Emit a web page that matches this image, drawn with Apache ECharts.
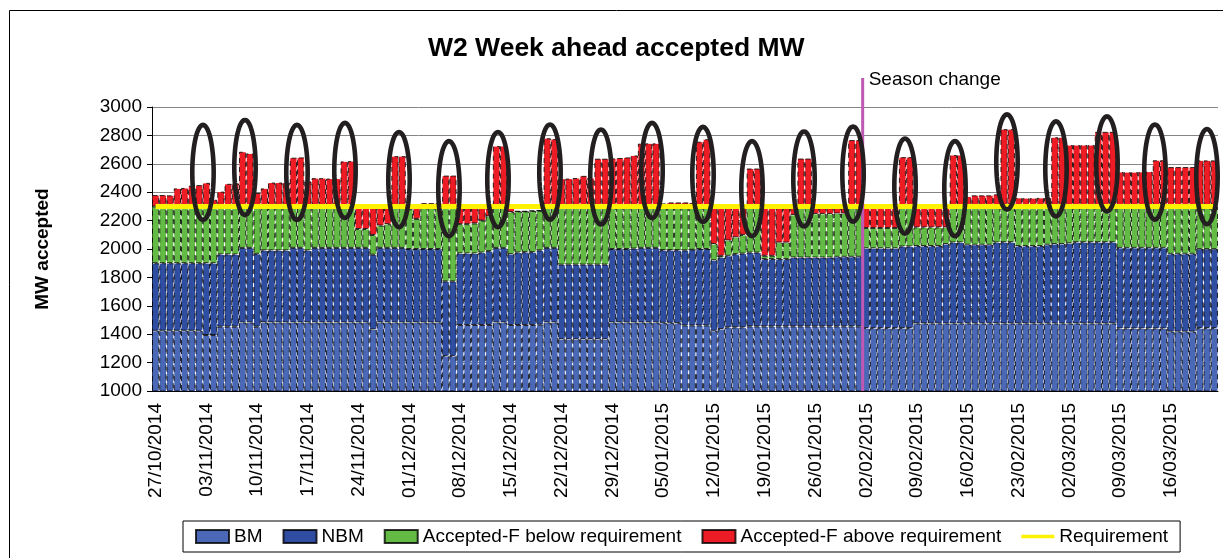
<!DOCTYPE html>
<html>
<head>
<meta charset="utf-8">
<script src="https://cdn.jsdelivr.net/npm/echarts@6/dist/echarts.min.js"></script>
<style>
html, body { margin: 0; padding: 0; background: #fff; }
#chart-container { width: 1223px; height: 558px; }
</style>
</head>
<body>
<div id="chart-container"></div>
<script>
// levels, one value per day (27/10/2014 .. 22/03/2015), one row per week
var bmTop = [
    1424, 1424, 1424, 1424, 1424, 1424, 1424,
    1394, 1394, 1453, 1453, 1453, 1483, 1483,
    1453, 1483, 1483, 1483, 1483, 1483, 1483,
    1483, 1483, 1483, 1483, 1483, 1483, 1483,
    1483, 1483, 1433, 1483, 1483, 1483, 1483,
    1483, 1483, 1483, 1483, 1483, 1247, 1247,
    1465, 1465, 1465, 1465, 1465, 1483, 1483,
    1465, 1465, 1465, 1465, 1467, 1483, 1483,
    1365, 1365, 1365, 1365, 1365, 1365, 1365,
    1483, 1483, 1483, 1483, 1483, 1483, 1483,
    1480, 1480, 1478, 1462, 1462, 1462, 1462,
    1424, 1436, 1448, 1448, 1448, 1455, 1455,
    1455, 1455, 1455, 1455, 1455, 1455, 1455,
    1455, 1455, 1455, 1455, 1455, 1455, 1455,
    1443, 1443, 1443, 1443, 1443, 1443, 1443,
    1476, 1476, 1476, 1476, 1476, 1476, 1476,
    1476, 1476, 1476, 1476, 1476, 1476, 1476,
    1476, 1476, 1476, 1476, 1476, 1476, 1476,
    1476, 1476, 1476, 1476, 1476, 1476, 1476,
    1441, 1441, 1441, 1441, 1441, 1441, 1441,
    1418, 1418, 1418, 1418, 1443, 1443, 1443
];
var nbmTop = [
    1900, 1900, 1900, 1900, 1900, 1900, 1900,
    1900, 1900, 1962, 1962, 1962, 2008, 2008,
    1966, 1990, 1990, 1990, 1990, 2008, 2008,
    1990, 2008, 2008, 2008, 2008, 2008, 2008,
    2008, 2008, 1960, 2008, 2008, 2008, 2008,
    2000, 2000, 2000, 2000, 2000, 1772, 1772,
    1969, 1969, 1969, 1975, 1985, 2008, 2008,
    1964, 1975, 1978, 1978, 1990, 2008, 2008,
    1890, 1890, 1890, 1890, 1890, 1890, 1890,
    2000, 2000, 2000, 2003, 2008, 2008, 2008,
    1992, 1992, 1992, 1990, 1995, 2000, 2000,
    1921, 1940, 1952, 1964, 1968, 1975, 1975,
    1929, 1929, 1929, 1929, 1940, 1940, 1940,
    1940, 1940, 1940, 1945, 1945, 1945, 1945,
    2005, 2005, 2005, 2005, 2005, 2018, 2018,
    2021, 2021, 2021, 2021, 2035, 2046, 2046,
    2030, 2030, 2030, 2030, 2046, 2048, 2048,
    2021, 2021, 2021, 2021, 2030, 2035, 2035,
    2040, 2048, 2048, 2048, 2048, 2048, 2048,
    2008, 2008, 2008, 2008, 2008, 2008, 2008,
    1966, 1966, 1966, 1966, 1999, 1999, 1999
];
var belowReqTop = [
    2300, 2300, 2300, 2300, 2300, 2300, 2300,
    2300, 2300, 2300, 2300, 2300, 2300, 2300,
    2300, 2300, 2300, 2300, 2300, 2300, 2300,
    2300, 2300, 2300, 2300, 2300, 2300, 2300,
    2141, 2141, 2099, 2165, 2175, 2300, 2300,
    2280, 2212, 2300, 2300, 2300, 2300, 2300,
    2175, 2175, 2180, 2200, 2230, 2300, 2300,
    2260, 2265, 2265, 2268, 2270, 2300, 2300,
    2300, 2300, 2300, 2300, 2300, 2300, 2300,
    2300, 2300, 2300, 2300, 2300, 2300, 2300,
    2300, 2300, 2300, 2300, 2300, 2300, 2300,
    2035, 1952, 2060, 2082, 2099, 2300, 2300,
    1952, 1952, 2045, 2045, 2240, 2300, 2300,
    2247, 2247, 2247, 2250, 2250, 2300, 2300,
    2148, 2148, 2148, 2148, 2148, 2300, 2300,
    2152, 2152, 2152, 2152, 2152, 2300, 2300,
    2300, 2300, 2300, 2300, 2300, 2300, 2300,
    2300, 2300, 2300, 2300, 2300, 2300, 2300,
    2300, 2300, 2300, 2300, 2300, 2300, 2300,
    2300, 2300, 2300, 2300, 2300, 2300, 2300,
    2300, 2300, 2300, 2300, 2300, 2300, 2300
];
var totalTop = [
    2380, 2380, 2378, 2427, 2430, 2446, 2450,
    2466, 2347, 2404, 2459, 2462, 2685, 2673,
    2395, 2427, 2468, 2468, 2468, 2643, 2645,
    2476, 2499, 2499, 2496, 2496, 2617, 2619,
    2295, 2295, 2295, 2295, 2295, 2654, 2654,
    2298, 2298, 2323, 2323, 2323, 2517, 2517,
    2295, 2295, 2295, 2295, 2295, 2725, 2726,
    2290, 2265, 2265, 2268, 2270, 2780, 2775,
    2496, 2496, 2500, 2515, 2500, 2636, 2636,
    2638, 2641, 2645, 2659, 2742, 2744, 2744,
    2321, 2328, 2328, 2328, 2325, 2756, 2773,
    2295, 2295, 2295, 2295, 2295, 2567, 2567,
    2295, 2295, 2295, 2295, 2295, 2637, 2637,
    2295, 2295, 2295, 2295, 2295, 2767, 2767,
    2295, 2295, 2295, 2295, 2295, 2647, 2647,
    2295, 2295, 2295, 2295, 2295, 2662, 2662,
    2370, 2378, 2378, 2378, 2385, 2844, 2844,
    2360, 2358, 2358, 2360, 2360, 2787, 2787,
    2732, 2732, 2732, 2732, 2825, 2825, 2825,
    2543, 2541, 2541, 2543, 2545, 2625, 2625,
    2577, 2577, 2577, 2577, 2624, 2624, 2624
];
var requirementMW = 2300;
var seasonChangeDay = '02/02/2015';
// hand drawn rings: day position (fractional) and centre in MW
var ringDay = [6.53, 12.32, 19.49, 26.11, 33.56, 40.45, 47.21, 54.38, 61.41, 68.45, 75.48,
    82.24, 89.41, 96.17, 103.34, 110.23, 117.4, 124.16, 131.19, 137.8, 144.98];
var ringMW = [2539, 2574, 2539, 2553, 2489, 2425, 2489, 2542, 2507, 2553, 2525,
    2425, 2493, 2528, 2443, 2425, 2613, 2564, 2599, 2542, 2510];

function pad(n) { return n < 10 ? '0' + n : '' + n; }
var days = [];
for (var i = 0; i < bmTop.length; i++) {
    var d = new Date(Date.UTC(2014, 9, 27 + i));
    days.push(pad(d.getUTCDate()) + '/' + pad(d.getUTCMonth() + 1) + '/' + d.getUTCFullYear());
}

// stacked pieces from the levels
function piece(top, under) {
    return top.map(function (v, i) { return under ? v - under[i] : v; });
}

var font = '"Liberation Sans", Arial, sans-serif';
var dashed = { borderColor: 'rgba(0,0,0,0.8)', borderWidth: 1, borderType: [5, 4] };

function barSeries(name, data, color) {
    return {
        name: name,
        type: 'bar',
        stack: 'mw',
        barCategoryGap: 0,
        clip: true,
        itemStyle: Object.assign({ color: color }, dashed),
        data: data
    };
}

var dom = document.getElementById('chart-container');
var myChart = echarts.init(dom, null, { renderer: 'canvas', devicePixelRatio: 1 });

var option = {
    animation: false,
    backgroundColor: '#fff',
    textStyle: { fontFamily: font },
    title: {
        text: 'W2 Week ahead accepted MW',
        left: 423,
        top: 30,
        textStyle: { fontFamily: font, fontSize: 26.5, fontWeight: 'bold', color: '#000' }
    },
    graphic: [{
        type: 'rect',
        left: 7,
        top: 8,
        silent: true,
        shape: { width: 1214, height: 600 },
        style: { fill: 'none', stroke: '#000', lineWidth: 1 }
    }],
    legend: {
        data: [
            { name: 'BM', icon: 'rect' },
            { name: 'NBM', icon: 'rect' },
            { name: 'Accepted-F below requirement', icon: 'rect' },
            { name: 'Accepted-F above requirement', icon: 'rect' },
            { name: 'Requirement', icon: 'path://M0,0 L100,0 L100,11 L0,11 Z' }
        ],
        left: 183,
        top: 521,
        itemWidth: 33,
        itemHeight: 13,
        itemGap: 20,
        padding: [6, 12],
        borderColor: '#000',
        borderWidth: 1,
        borderRadius: 0,
        textStyle: { fontFamily: font, fontSize: 19, color: '#000' }
    },
    grid: { left: 152, right: 5, top: 107, bottom: 167 },
    xAxis: {
        type: 'category',
        data: days,
        boundaryGap: true,
        axisLine: { lineStyle: { color: '#000' } },
        axisTick: { interval: 6, length: 6, lineStyle: { color: '#000' } },
        axisLabel: { interval: 6, rotate: 90, fontSize: 19, color: '#000', margin: 12, fontFamily: font }
    },
    yAxis: {
        type: 'value',
        min: 1000,
        max: 3000,
        interval: 200,
        name: 'MW accepted',
        nameLocation: 'middle',
        nameGap: 100,
        nameTextStyle: { fontFamily: font, fontSize: 19, fontWeight: 'bold', color: '#000' },
        axisLine: { show: true, lineStyle: { color: '#000' } },
        axisTick: { show: true, length: 5, lineStyle: { color: '#000' } },
        axisLabel: {
            fontSize: 19, color: '#000', margin: 10, fontFamily: font,
            formatter: function (v) { return String(v); }
        },
        splitLine: { lineStyle: { color: '#858585' } }
    },
    series: [
        barSeries('BM', piece(bmTop), '#4a68b6'),
        barSeries('NBM', piece(nbmTop, bmTop), '#2f4ea2'),
        barSeries('Accepted-F below requirement', piece(belowReqTop, nbmTop), '#63ba45'),
        barSeries('Accepted-F above requirement', piece(totalTop, belowReqTop), '#ed1c24'),
        {
            name: 'Requirement',
            type: 'line',
            symbol: 'none',
            z: 3,
            lineStyle: { color: '#fff200', width: 5 },
            itemStyle: { color: '#fff200' },
            data: [[days[0], requirementMW], [days[days.length - 1], requirementMW]]
        },
        {
            type: 'custom',
            z: 5,
            clip: false,
            silent: true,
            encode: { x: 0, y: [1, 2] },
            data: [[days.indexOf(seasonChangeDay), 1000, 3205]],
            renderItem: function (params, api) {
                var lo = api.coord([api.value(0), api.value(1)]);
                var hi = api.coord([api.value(0), api.value(2)]);
                var x = lo[0] - api.size([1, 0])[0] / 2;
                return {
                    type: 'group',
                    children: [{
                        type: 'line',
                        shape: { x1: x, y1: lo[1], x2: x, y2: hi[1] },
                        style: { stroke: '#bf59b3', lineWidth: 3 }
                    }, {
                        type: 'text',
                        x: x + 6,
                        y: hi[1] + 2,
                        style: { text: 'Season change', fill: '#000', font: '19px ' + font, verticalAlign: 'middle', align: 'left' }
                    }]
                };
            }
        },
        {
            type: 'custom',
            z: 6,
            clip: false,
            silent: true,
            encode: { x: 0, y: 1 },
            data: ringDay.map(function (dd, k) {
                return [Math.floor(dd), ringMW[k], dd - Math.floor(dd)];
            }),
            renderItem: function (params, api) {
                var c = api.coord([api.value(0), api.value(1)]);
                var cx = c[0] + api.value(2) * api.size([1, 0])[0];
                var pts = [];
                for (var k = 0; k < 60; k++) {
                    var a = k / 60 * Math.PI * 2;
                    pts.push([cx + 10.7 * Math.cos(a), c[1] + 47.5 * Math.sin(a)]);
                }
                return {
                    type: 'polygon',
                    shape: { points: pts },
                    style: { fill: 'none', stroke: '#231f20', lineWidth: 4.6 }
                };
            }
        }
    ]
};

if (option && typeof option === 'object') {
    myChart.setOption(option);
}

window.addEventListener('resize', myChart.resize);
</script>
</body>
</html>
